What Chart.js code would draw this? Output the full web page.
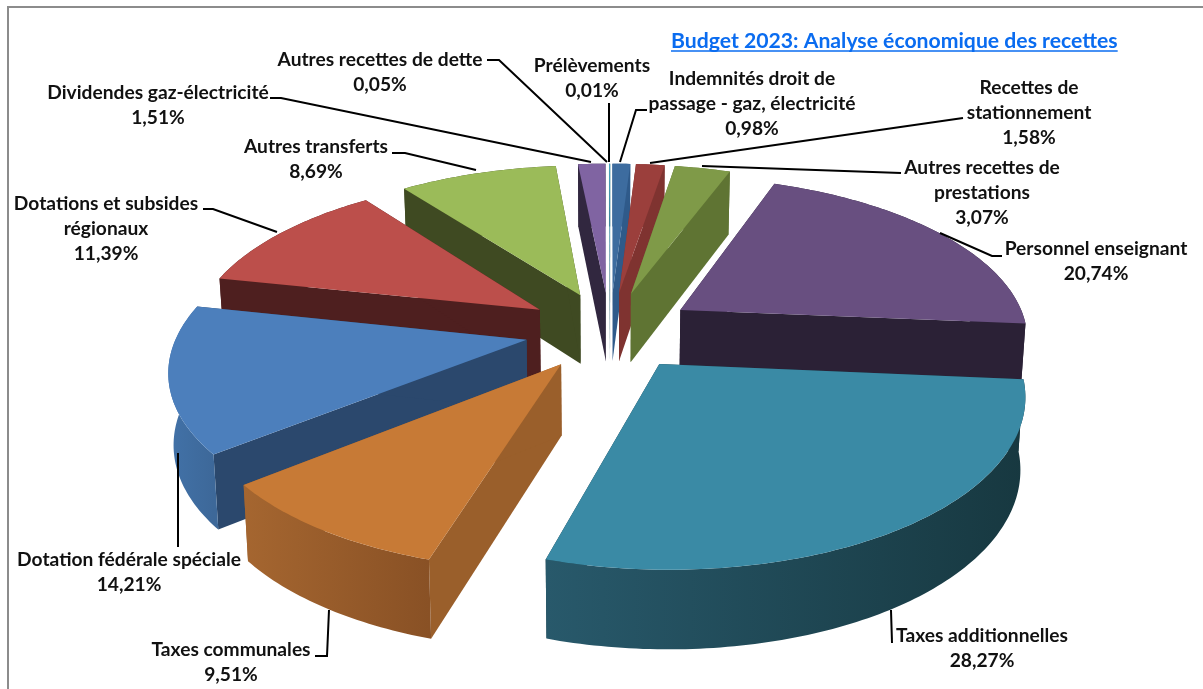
<!DOCTYPE html>
<html lang="fr">
<head>
<meta charset="utf-8">
<title>Budget 2023</title>
<script src="https://cdn.jsdelivr.net/npm/chart.js@4"></script>
<style>
html, body { margin: 0; padding: 0; background: #fff; overflow: hidden; }
#wrap { width: 1203px; height: 689px; }
</style>
</head>
<body>
<div id="wrap"><canvas id="pie"></canvas></div>
<script>
const title = 'Budget 2023: Analyse économique des recettes';

const categories = ['Prélèvements', 'Indemnités droit de passage - gaz, électricité', 'Recettes de stationnement',
    'Autres recettes de prestations', 'Personnel enseignant', 'Taxes additionnelles', 'Taxes communales',
    'Dotation fédérale spéciale', 'Dotations et subsides régionaux', 'Autres transferts',
    'Dividendes gaz-électricité', 'Autres recettes de dette'];
const shares = [0.01, 0.98, 1.58, 3.07, 20.74, 28.27, 9.51, 14.21, 11.39, 8.69, 1.51, 0.05];

// colours of the faces
const topColors = ['#3f9ab5', '#3d6c9f', '#9b3f3c', '#7f9a48', '#684f80', '#3a8aa5', '#c77a36', '#4c7fbc', '#bc4f4b', '#9bbb59', '#8064a2', '#4bacc6'];
const cutColors = ['#1d5563', '#2f5a8a', '#7f3330', '#5f7433', '#2b2136', '#1a3a44', '#9a5f2b', '#2b486d', '#4e1f1f', '#3f4a22', '#31273f', '#1d5563'];
const wallLeft = ['#1d5563', '#2f5a8a', '#7f3330', '#5f7433', '#2b2136', '#28596b', '#a56630', '#4272a8', '#4e1f1f', '#3f4a22', '#31273f', '#1d5563'];
const wallRight = ['#1d5563', '#2f5a8a', '#7f3330', '#5f7433', '#2b2136', '#173840', '#895125', '#3d6899', '#4e1f1f', '#3f4a22', '#31273f', '#1d5563'];

// label lines (without the percentage), same order as categories
const labelLines = [['Prélèvements'], ['Indemnités droit de', 'passage - gaz, électricité'], ['Recettes de', 'stationnement'],
    ['Autres recettes de', 'prestations'], ['Personnel enseignant'], ['Taxes additionnelles'], ['Taxes communales'],
    ['Dotation fédérale spéciale'], ['Dotations et subsides', 'régionaux'], ['Autres transferts'],
    ['Dividendes gaz-électricité'], ['Autres recettes de dette']];
// x centre and first line y of each label
const labelSpots = [[592, 66], [752, 79], [1029, 88], [982, 168], [1096, 249], [982, 636], [231, 650], [129, 560], [106, 204], [316, 147], [158, 93], [380, 60]];
const leaders = [
    [[609, 103], [609, 162]],
    [[647, 110], [636, 110], [620, 162]],
    [[963, 118], [650, 163]],
    [[901, 173], [702, 166]],
    [[1002, 256], [992, 256], [940, 233]],
    [[892, 643], [891, 610]],
    [[315, 656], [327, 656], [329, 610]],
    [[178, 547], [178, 453]],
    [[203, 209], [213, 209], [277, 232]],
    [[392, 153], [405, 153], [476, 170]],
    [[270, 98], [281, 98], [591, 162]],
    [[487, 60], [499, 60], [607, 162]]
];

// view settings of the tilted pie
const centerX = 610, centerY = 330.5;
const explode = 85, grow = 1.01, tilt = 0.462, persp = 0.16, thickness = 70;

function project(x, y, z, R) {
    const s = 1 / (1 + persp * y / R);
    const conv = 1 - 0.012 * z;
    return [centerX + x * s * conv, centerY - tilt * y * s + thickness * z * Math.pow(s, 0.6)];
}

function fillPoly(ctx, pts, fill) {
    ctx.beginPath();
    pts.forEach((p, i) => i ? ctx.lineTo(p[0], p[1]) : ctx.moveTo(p[0], p[1]));
    ctx.closePath();
    ctx.fillStyle = fill;
    ctx.fill();
}

const pie3d = {
    id: 'pie3d',
    beforeDatasetsDraw(chart) {
        const ctx = chart.ctx;
        const arcs = chart.getDatasetMeta(0).data;
        const list = arcs.map((arc, i) => {
            const p = arc.getProps(['startAngle', 'endAngle', 'outerRadius'], true);
            const a0 = p.startAngle + Math.PI / 2, a1 = p.endAngle + Math.PI / 2;
            const mid = (a0 + a1) / 2;
            return { i, a0, a1, R: p.outerRadius * grow, ox: explode * Math.sin(mid), oy: explode * Math.cos(mid) };
        });
        // back slices first
        list.sort((a, b) => b.oy - a.oy);
        list.forEach(sl => {
            const steps = Math.max(2, Math.ceil((sl.a1 - sl.a0) * 60));
            const rim = z => {
                const pts = [];
                for (let k = 0; k <= steps; k++) {
                    const a = sl.a0 + (sl.a1 - sl.a0) * k / steps;
                    pts.push(project(sl.ox + sl.R * Math.sin(a), sl.oy + sl.R * Math.cos(a), z, sl.R));
                }
                return pts;
            };
            const top = rim(0), bottom = rim(1);
            const apexTop = project(sl.ox, sl.oy, 0, sl.R), apexBottom = project(sl.ox, sl.oy, 1, sl.R);
            // the two cut faces
            fillPoly(ctx, [apexTop, top[0], bottom[0], apexBottom], cutColors[sl.i]);
            fillPoly(ctx, [apexTop, top[steps], bottom[steps], apexBottom], cutColors[sl.i]);
            // outer wall
            const xs = top.map(p => p[0]);
            const grad = ctx.createLinearGradient(Math.min(...xs), 0, Math.max(...xs), 0);
            grad.addColorStop(0, wallLeft[sl.i]);
            grad.addColorStop(1, wallRight[sl.i]);
            fillPoly(ctx, top.concat(bottom.slice().reverse()), grad);
            // top face
            fillPoly(ctx, [apexTop].concat(top), topColors[sl.i]);
        });
        return false;
    },
    afterDraw(chart) {
        const ctx = chart.ctx;
        ctx.save();
        // frame
        ctx.strokeStyle = '#8c8c8c';
        ctx.lineWidth = 2;
        ctx.beginPath();
        ctx.moveTo(8, 689);
        ctx.lineTo(8, 7);
        ctx.lineTo(1203, 7);
        ctx.stroke();
        // leader lines
        ctx.strokeStyle = '#000';
        ctx.lineWidth = 2;
        leaders.forEach(l => {
            ctx.beginPath();
            l.forEach((p, i) => i ? ctx.lineTo(p[0], p[1]) : ctx.moveTo(p[0], p[1]));
            ctx.stroke();
        });
        // labels
        ctx.font = '700 19.2px Lato';
        ctx.fillStyle = '#111';
        ctx.textAlign = 'center';
        ctx.textBaseline = 'middle';
        labelLines.forEach((lines, i) => {
            const text = lines.concat(shares[i].toFixed(2).replace('.', ',') + '%');
            text.forEach((t, k) => ctx.fillText(t, labelSpots[i][0], labelSpots[i][1] + k * 25));
        });
        // title
        ctx.font = '700 21.2px Lato';
        ctx.fillStyle = '#0a6cf0';
        ctx.textAlign = 'left';
        ctx.fillText(title, 671, 41);
        ctx.strokeStyle = '#0a6cf0';
        ctx.lineWidth = 1.5;
        ctx.beginPath();
        ctx.moveTo(671, 51);
        ctx.lineTo(671 + ctx.measureText(title).width, 51);
        ctx.stroke();
        ctx.restore();
    }
};

new Chart(document.getElementById('pie'), {
    type: 'pie',
    data: {
        labels: categories,
        datasets: [{
            data: shares,
            backgroundColor: topColors,
            borderWidth: 0
        }]
    },
    options: {
        responsive: true,
        maintainAspectRatio: false,
        animation: false,
        plugins: {
            legend: { display: false },
            tooltip: { enabled: false }
        }
    },
    plugins: [pie3d]
});
</script>
</body>
</html>
